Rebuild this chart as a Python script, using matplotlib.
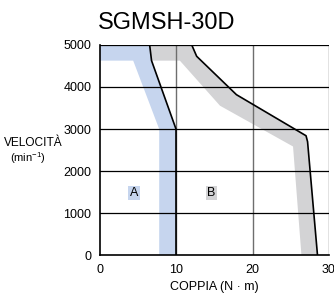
import matplotlib.pyplot as plt

plt.rcParams['font.family'] = ['Liberation Sans', 'DejaVu Sans']
plt.rcParams['mathtext.default'] = 'regular'

# Zona A (servizio continuo) - limite e bordo della fascia blu
a_line_t = [6.55, 6.8, 10.0, 10.0]
a_line_v = [5000, 4625, 3000, 0]
a_inner_t = [0.0, 4.4, 7.8, 7.8]
a_inner_v = [4625, 4625, 3000, 0]

# Zona B (servizio intermittente) - limite e bordo della fascia grigia
b_line_t = [12.05, 12.7, 17.9, 27.0, 27.2, 28.5]
b_line_v = [5000, 4728, 3817, 2842, 2700, 0]
b_inner_t = [6.8, 10.5, 15.75, 25.3, 26.4]
b_inner_v = [4625, 4625, 3555, 2587, 0]

xticks = [0, 10, 20, 30]
yticks = [0, 1000, 2000, 3000, 4000, 5000]

fig = plt.figure(figsize=(3.34, 2.95), dpi=100)
ax = fig.add_axes([0.298, 0.134, 0.687, 0.714])

blue = '#c6d5ee'
grey = '#d3d3d5'

# fascia blu: dal bordo interno alla linea limite A
poly_at = [0.0] + a_line_t + a_inner_t[::-1]
poly_av = [5000] + a_line_v + a_inner_v[::-1]
ax.fill(poly_at, poly_av, color=blue, lw=0, zorder=1)

# fascia grigia: tra linea A in alto, linea B e bordo interno
poly_bt = [a_line_t[0]] + b_line_t + b_inner_t[::-1]
poly_bv = [5000] + b_line_v + b_inner_v[::-1]
ax.fill(poly_bt, poly_bv, color=grey, lw=0, zorder=1)

# griglia
for x in xticks[1:]:
    ax.axvline(x, color='#6e6e6e', lw=1.0, zorder=2)
for y in yticks[1:]:
    ax.axhline(y, color='black', lw=0.9, zorder=2)

ax.plot(a_line_t, a_line_v, color='black', lw=1.2, zorder=3)
ax.plot(b_line_t, b_line_v, color='black', lw=1.2, zorder=3)

ax.text(4.5, 1480, 'A', fontsize=9, ha='center', va='center',
        bbox=dict(facecolor=blue, edgecolor='none', pad=1.0))
ax.text(14.6, 1480, 'B', fontsize=9, ha='center', va='center',
        bbox=dict(facecolor=grey, edgecolor='none', pad=1.0))

ax.set_xlim(0, 30)
ax.set_ylim(0, 5000)
ax.set_xticks(xticks)
ax.set_yticks(yticks)
ax.tick_params(length=0, labelsize=9, pad=6)
for s in ['top', 'right']:
    ax.spines[s].set_visible(False)
ax.spines['left'].set_linewidth(1.2)
ax.spines['bottom'].set_linewidth(1.2)

fig.text(0.5, 0.922, 'SGMSH-30D', fontsize=17, ha='center', va='center')
fig.text(0.012, 0.515, 'VELOCITÀ', fontsize=8.6, ha='left', va='center')
fig.text(0.03, 0.465, '(min$^{-1}$)', fontsize=8, ha='left', va='center')
fig.text(0.641, 0.027, 'COPPIA (N · m)', fontsize=9, ha='center', va='center')

plt.savefig('out.png', dpi=100)
